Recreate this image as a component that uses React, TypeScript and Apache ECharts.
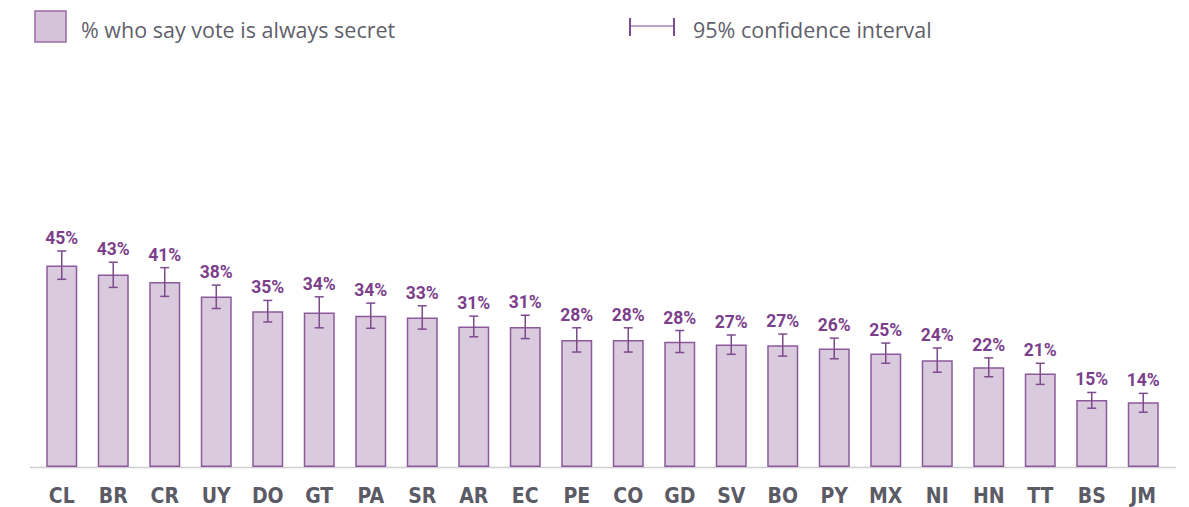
import React, { useEffect, useRef } from "react";
import * as echarts from "echarts";

const categories = ["CL","BR","CR","UY","DO","GT","PA","SR","AR","EC","PE","CO","GD","SV","BO","PY","MX","NI","HN","TT","BS","JM"];
const values = [44.9,42.9,41.2,38.0,34.7,34.4,33.7,33.3,31.3,31.2,28.3,28.3,27.9,27.3,27.1,26.4,25.3,23.8,22.2,20.8,14.9,14.4];
const ciLow = [41.8,40.0,38.0,35.3,32.3,31.0,30.9,30.7,29.0,28.6,25.6,25.6,25.5,25.1,24.7,24.1,23.1,21.1,20.1,18.4,13.1,12.2];
const ciHigh = [48.1,45.6,44.4,40.5,37.1,37.9,36.5,35.9,33.6,33.8,31.0,31.0,30.4,29.4,29.6,28.7,27.6,26.5,24.3,23.1,16.6,16.4];
const labels = ["45%","43%","41%","38%","35%","34%","34%","33%","31%","31%","28%","28%","28%","27%","27%","26%","25%","24%","22%","21%","15%","14%"];

const legendBar = "% who say vote is always secret";
const legendCI = "95% confidence interval";

export default function App() {
  const ref = useRef<HTMLDivElement>(null);
  useEffect(() => {
    document.body.style.margin = "0";
    if (!ref.current) return;
    const chart = echarts.init(ref.current, null, { renderer: "svg" });
    const purple = "#7d4a8c";
    chart.setOption({
      animation: false,
      grid: { left: 36, right: 20, top: 242.5, bottom: 40 },
      xAxis: {
        type: "category",
        data: categories,
        axisLine: { show: false },
        axisTick: { show: false },
        axisLabel: {
          color: "#5b5b66",
          fontFamily: "'Liberation Sans Narrow', 'DejaVu Sans Condensed', Roboto",
          fontWeight: "bold",
          fontSize: 21,
          margin: 18,
          verticalAlign: "top",
          lineHeight: 21,
        },
      },
      yAxis: {
        type: "value",
        min: 0,
        max: 50,
        show: false,
        splitLine: { show: false },
      },
      series: [
        {
          type: "bar",
          data: values,
          barWidth: 31,
          itemStyle: { color: "#d9cade", borderColor: "#8c5a9c", borderWidth: 1.5 },
          z: 2,
        },
        {
          type: "custom",
          z: 3,
          data: categories.map((_, i) => [i, ciLow[i], ciHigh[i]]),
          renderItem: (params: any, api: any) => {
            const i = api.value(0);
            const lo = api.coord([i, api.value(1)]);
            const hi = api.coord([i, api.value(2)]);
            const x = lo[0];
            const cap = 4.5;
            const st = { stroke: purple, lineWidth: 1.5 };
            return {
              type: "group",
              children: [
                { type: "line", shape: { x1: x, y1: lo[1], x2: x, y2: hi[1] }, style: st },
                { type: "line", shape: { x1: x - cap, y1: lo[1], x2: x + cap, y2: lo[1] }, style: st },
                { type: "line", shape: { x1: x - cap, y1: hi[1], x2: x + cap, y2: hi[1] }, style: st },
                {
                  type: "text",
                  style: {
                    text: labels[params.dataIndex],
                    x: x,
                    y: hi[1] - 4,
                    textAlign: "center",
                    textVerticalAlign: "bottom",
                    fill: "#7b3f8b",
                    font: "bold 17.5px Roboto",
                  },
                },
              ],
            };
          },
        },
      ],
      graphic: [
        { type: "line", shape: { x1: 30, y1: 467.5, x2: 1176, y2: 467.5 }, style: { stroke: "#cfcfd2", lineWidth: 1.5 }, z: 1 },
        { type: "rect", shape: { x: 35, y: 11, width: 31, height: 31 }, style: { fill: "#d4c3d9", stroke: "#9b6aa8", lineWidth: 1.5 } },
        { type: "text", style: { text: legendBar, x: 81, y: 29, textVerticalAlign: "middle", fill: "#5f5f6b", font: "21.5px 'Open Sans'" } },
        { type: "line", shape: { x1: 630, y1: 18, x2: 630, y2: 36 }, style: { stroke: purple, lineWidth: 2 } },
        { type: "line", shape: { x1: 674, y1: 18, x2: 674, y2: 36 }, style: { stroke: purple, lineWidth: 2 } },
        { type: "line", shape: { x1: 630, y1: 26, x2: 674, y2: 26 }, style: { stroke: purple, lineWidth: 1.2 } },
        { type: "text", style: { text: legendCI, x: 693, y: 29, textVerticalAlign: "middle", fill: "#5f5f6b", font: "21.5px 'Open Sans'" } },
      ],
    });
    return () => chart.dispose();
  }, []);
  return <div ref={ref} style={{ width: 1189, height: 507 }} />;
}
